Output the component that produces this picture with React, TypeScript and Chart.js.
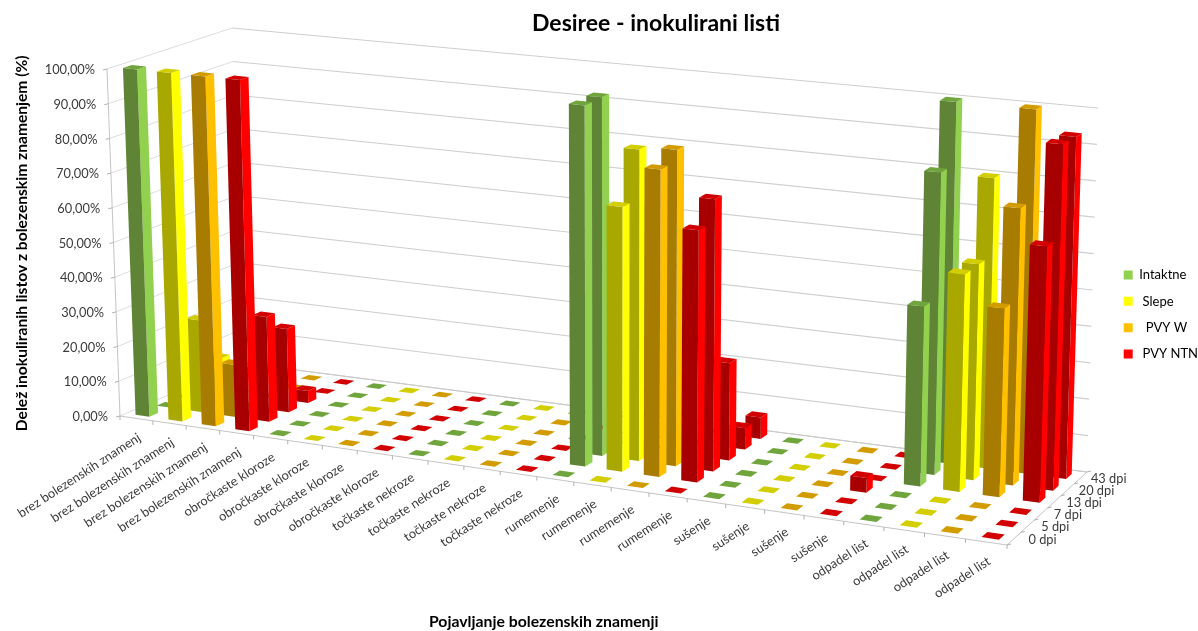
import React, { useEffect, useRef } from "react";
import { Chart, registerables } from "chart.js";

Chart.register(...registerables);

const FONT = "Lato, 'Noto Sans', sans-serif";

// Category axis: four inoculation treatments within each symptom group
const categories = [
  "brez bolezenskih znamenj", "brez bolezenskih znamenj", "brez bolezenskih znamenj", "brez bolezenskih znamenj",
  "obročkaste kloroze", "obročkaste kloroze", "obročkaste kloroze", "obročkaste kloroze",
  "točkaste nekroze", "točkaste nekroze", "točkaste nekroze", "točkaste nekroze",
  "rumemenje", "rumemenje", "rumemenje", "rumemenje",
  "sušenje", "sušenje", "sušenje", "sušenje",
  "odpadel list", "odpadel list", "odpadel list", "odpadel list",
];
const days = ["0 dpi", "5 dpi", "7 dpi", "13 dpi", "20 dpi", "43 dpi"];

const dpi0 = [100, 100, 100, 100, 0, 0, 0, 0, 0, 0, 0, 0, 0, 0, 0, 0, 0, 0, 0, 0, 0, 0, 0, 0];
const dpi5 = [0, 26.5, 15, 30, 0, 0, 0, 0, 0, 0, 0, 0, 100, 73, 84.5, 69, 0, 0, 0, 0, 0, 0, 0, 0];
const dpi7 = [0, 13, 0, 24, 0, 0, 0, 0, 0, 0, 0, 0, 100, 86.5, 87.5, 75, 0, 0, 0, 4, 0, 0, 0, 0];
const dpi13 = [0, 0, 0, 3.5, 0, 0, 0, 0, 0, 0, 0, 0, 0, 0, 0, 27, 0, 0, 0, 0, 49, 59, 51, 69];
const dpi20 = [0, 0, 0, 0, 0, 0, 0, 0, 0, 0, 0, 0, 0, 0, 0, 6, 0, 0, 0, 0, 83, 59, 75.5, 94];
const dpi43 = [0, 0, 0, 0, 0, 0, 0, 0, 0, 0, 0, 0, 0, 0, 0, 6, 0, 0, 0, 0, 100, 80, 100, 93.5];
const rows = [dpi0, dpi5, dpi7, dpi13, dpi20, dpi43];

const treatments = ["Intaktne", " Slepe", "  PVY W", " PVY NTN"];
const lit = ["#92D050", "#FFFF00", "#FFC000", "#FF0000"];
const shade = ["#608436", "#A8A800", "#A87C00", "#A80000"];
const cap = ["#6FA53C", "#D2CE00", "#D29C00", "#D20000"];

type Pt = [number, number];

// Foreshortening along an edge: grid lines stay straight, spacing changes with distance
const warp = (t: number, k: number) => t / (t + (1 - t) * k);
const U_WARP = 1.128;
const V_WARP = 0.97;

const quad = (p00: Pt, p10: Pt, p11: Pt, p01: Pt) => (u: number, v: number): Pt => {
  const s = warp(u, U_WARP), t = warp(v, V_WARP);
  return [
    (1 - s) * (1 - t) * p00[0] + s * (1 - t) * p10[0] + s * t * p11[0] + (1 - s) * t * p01[0],
    (1 - s) * (1 - t) * p00[1] + s * (1 - t) * p10[1] + s * t * p11[1] + (1 - s) * t * p01[1],
  ];
};

// The box of the 3D view: floor and ceiling planes in canvas space
const floorAt = quad([120, 416], [1007, 545], [1087, 472], [242, 363]);
const ceilAt = quad([107, 69], [1018, 163], [1098, 108], [232, 28]);
const project = (u: number, v: number, h: number): Pt => {
  const a = floorAt(u, v), b = ceilAt(u, v);
  return [a[0] + (b[0] - a[0]) * h, a[1] + (b[1] - a[1]) * h];
};

const DEPTH_FILL = 0.42;

function poly(ctx: CanvasRenderingContext2D, pts: Pt[], fill: string) {
  ctx.beginPath();
  pts.forEach((p, i) => (i ? ctx.lineTo(p[0], p[1]) : ctx.moveTo(p[0], p[1])));
  ctx.closePath();
  ctx.fillStyle = fill;
  ctx.fill();
}

function line(ctx: CanvasRenderingContext2D, a: Pt, b: Pt, color: string, width = 1) {
  ctx.beginPath();
  ctx.moveTo(a[0], a[1]);
  ctx.lineTo(b[0], b[1]);
  ctx.strokeStyle = color;
  ctx.lineWidth = width;
  ctx.stroke();
}

const view3d = {
  id: "view3d",
  afterLayout(chart: any) {
    // The key sits in the right margin, past the depth axis
    const lg = chart.legend;
    lg.left += 128;
    lg.right += 128;
    lg.top -= 1;
    lg.bottom -= 1;
    const t = chart.titleBlock;
    t.left = 114;
    t.right = 1198;
  },
  beforeDatasetsDraw(chart: any) {
    const { ctx } = chart;
    const y = chart.scales.y;
    const area = chart.chartArea;
    const hOf = (px: number) => (area.bottom - px) / (area.bottom - area.top);
    ctx.save();
    // Walls
    for (const t of y.ticks) {
      const h = hOf(y.getPixelForValue(t.value));
      line(ctx, project(0, 0, h), project(0, 1, h), "#dcdcdc");
      line(ctx, project(0, 1, h), project(1, 1, h), "#cfcfcf", 1.2);
    }
    // Floor outline
    line(ctx, project(0, 0, 0), project(1, 0, 0), "#c4c4c4");
    line(ctx, project(1, 0, 0), project(1, 1, 0), "#c4c4c4");
    line(ctx, project(0, 1, 0), project(1, 1, 0), "#c8c8c8");
    line(ctx, project(0, 0, 0), project(0, 0, 1), "#c4c4c4");
    ctx.restore();
  },
  beforeDatasetDraw() {
    return false; // marks are painted as boxes below
  },
  afterDatasetsDraw(chart: any) {
    const { ctx } = chart;
    const area = chart.chartArea;
    const depth = chart.scales.depth;
    const uOf = (px: number) => (px - area.left) / (area.right - area.left);
    const hOf = (px: number) => (area.bottom - px) / (area.bottom - area.top);
    const band = 1 / days.length;
    ctx.save();
    for (let d = days.length - 1; d >= 0; d--) {
      const vc = (depth.getPixelForValue(d) - depth.left) / depth.width;
      const v0 = vc - (band * DEPTH_FILL) / 2;
      const v1 = vc + (band * DEPTH_FILL) / 2;
      chart.getDatasetMeta(d).data.forEach((el: any, i: number) => {
        const u0 = uOf(el.x - el.width / 2);
        const u1 = uOf(el.x + el.width / 2);
        const h = hOf(el.y);
        const c = i % 4;
        if (h > 0) {
          poly(ctx, [project(u1, v0, 0), project(u1, v1, 0), project(u1, v1, h), project(u1, v0, h)], lit[c]);
          poly(ctx, [project(u0, v0, 0), project(u1, v0, 0), project(u1, v0, h), project(u0, v0, h)], shade[c]);
        }
        poly(ctx, [project(u0, v0, h), project(u1, v0, h), project(u1, v1, h), project(u0, v1, h)], cap[c]);
      });
    }
    ctx.restore();
  },
  afterDraw(chart: any) {
    const { ctx } = chart;
    const area = chart.chartArea;
    const { x, y, depth } = chart.scales;
    const uOf = (px: number) => (px - area.left) / (area.right - area.left);
    const hOf = (px: number) => (area.bottom - px) / (area.bottom - area.top);
    ctx.save();
    ctx.font = `12.8px ${FONT}`;
    ctx.fillStyle = "#3a3a3a";

    // Value axis ticks and labels follow the slanted front edge
    ctx.textAlign = "right";
    ctx.textBaseline = "middle";
    for (const t of y.ticks) {
      const p = project(0, 0, hOf(y.getPixelForValue(t.value)));
      line(ctx, p, [p[0] - 4, p[1] + 1], "#b0b0b0");
      ctx.fillText(t.label, p[0] - 12, p[1] + 1);
    }

    // Category ticks and slanted labels
    const n = categories.length;
    for (let i = 0; i <= n; i++) {
      const p = project(i / n, 0, 0);
      line(ctx, p, [p[0], p[1] + 4], "#b0b0b0");
    }
    categories.forEach((label, i) => {
      const p = project(uOf(x.getPixelForValue(i)), 0, 0);
      ctx.save();
      ctx.translate(p[0] + 3, p[1] + 18);
      ctx.rotate((-33 * Math.PI) / 180);
      ctx.textAlign = "right";
      ctx.textBaseline = "middle";
      ctx.fillText(label, 0, 0);
      ctx.restore();
    });

    // Depth axis ticks and labels on the right floor edge
    ctx.textAlign = "left";
    for (let i = 0; i <= days.length; i++) {
      const p = project(1, i / days.length, 0);
      line(ctx, p, [p[0] + 4, p[1] - 1], "#b0b0b0");
    }
    days.forEach((label, i) => {
      const v = (depth.getPixelForValue(i) - depth.left) / depth.width;
      const p = project(1, v, 0);
      ctx.fillText(label, p[0] + 15 - 5 * v, p[1] + 1);
    });
    ctx.restore();
  },
};

export default function App() {
  const ref = useRef<HTMLCanvasElement>(null);
  useEffect(() => {
    const chart = new Chart(ref.current!, {
      type: "bar",
      data: {
        labels: categories,
        datasets: rows.map((values, d) => ({
          label: days[d],
          data: values,
          grouped: false,
          categoryPercentage: 1,
          barPercentage: 0.42,
          backgroundColor: values.map((_, i) => lit[i % 4]),
        })),
      },
      options: {
        animation: false,
        responsive: false,
        layout: { padding: { top: 0, right: 118, bottom: 0, left: 0 } },
        plugins: {
          tooltip: { enabled: false },
          title: {
            display: true,
            text: "Desiree - inokulirani listi",
            color: "#000",
            font: { family: FONT, size: 23, weight: "bold" },
            padding: { top: 10, bottom: 32 },
          },
          legend: {
            position: "right",
            labels: {
              boxWidth: 9,
              boxHeight: 9,
              padding: 13.3,
              color: "#333",
              font: { family: FONT, size: 13 },
              generateLabels: () =>
                treatments.map((text, i) => ({
                  text,
                  fillStyle: lit[i],
                  strokeStyle: lit[i],
                  lineWidth: 0,
                  hidden: false,
                  datasetIndex: i,
                })),
            },
          },
        },
        scales: {
          x: {
            type: "category",
            offset: true,
            grid: { display: false },
            border: { display: false },
            ticks: { display: false },
            title: {
              display: true,
              text: "Pojavljanje bolezenskih znamenji",
              color: "#000",
              font: { family: FONT, size: 15.8, weight: "bold" },
              padding: { top: 0, bottom: 0 },
            },
            afterFit: (s: any) => { s.height = 214; },
          },
          depth: {
            type: "category",
            axis: "x",
            labels: days,
            offset: true,
            display: false,
          },
          y: {
            min: 0,
            max: 100,
            grid: { display: false },
            border: { display: false },
            ticks: {
              display: false,
              stepSize: 10,
              callback: (v: any) => `${Number(v).toFixed(2).replace(".", ",")}%`,
            },
            title: {
              display: true,
              text: "Delež inokuliranih listov z bolezenskim znamenjem (%)",
              color: "#000",
              font: { family: FONT, size: 15.6, weight: "bold" },
              padding: { top: 13, bottom: 0 },
            },
            afterFit: (s: any) => { s.width = 105; },
          },
        },
      } as any,
      plugins: [view3d as any],
    });
    return () => chart.destroy();
  }, []);
  return (
    <div style={{ position: "absolute", left: 0, top: 0, background: "#fff" }}>
      <canvas ref={ref} width={1198} height={631} style={{ display: "block" }} />
    </div>
  );
}
